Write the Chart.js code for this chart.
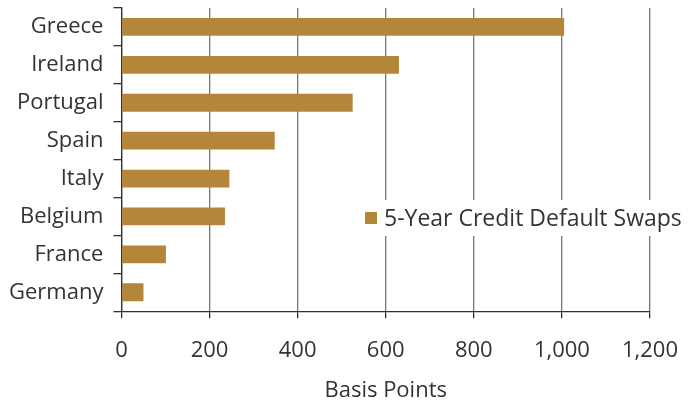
<!DOCTYPE html>
<html>
<head>
<meta charset="utf-8">
<script src="https://cdn.jsdelivr.net/npm/chart.js@4"></script>
<style>
  body { margin: 0; background: #fff; }
  #wrap { width: 697px; height: 402px; }
</style>
</head>
<body>
<div id="wrap"><canvas id="cds-chart"></canvas></div>
<script>
const countries = ['Greece', 'Ireland', 'Portugal', 'Spain', 'Italy', 'Belgium', 'France', 'Germany'];
const cdsValues = [1005, 630, 525, 348, 245, 235, 101, 50];
const xTicks = [0, 200, 400, 600, 800, 1000, 1200];
const seriesName = '5-Year Credit Default Swaps';

const barColor = '#B3863A';
const textColor = '#333333';
const fontFamily = '"Open Sans", "Noto Sans", sans-serif';
const fontSize = 22;

// legend sits inside the plot, on a white box over the gridlines
const insideLegend = {
    id: 'insideLegend',
    afterDraw(chart) {
        const ctx = chart.ctx;
        const ds = chart.data.datasets[0];
        const x = 365, y = 218;
        ctx.save();
        ctx.font = '23px ' + fontFamily;
        const w = ctx.measureText(ds.label).width;
        ctx.fillStyle = '#fff';
        ctx.fillRect(x - 4, y - 18, w + 30, 36);
        ctx.fillStyle = ds.backgroundColor;
        ctx.fillRect(x, y - 6, 12, 12);
        ctx.fillStyle = textColor;
        ctx.textBaseline = 'middle';
        ctx.fillText(ds.label, x + 19, y + 1);
        ctx.restore();
    }
};

const cdsChart = new Chart(document.getElementById('cds-chart').getContext('2d'), {
    type: 'bar',
    data: {
        labels: countries,
        datasets: [{
            label: seriesName,
            data: cdsValues,
            backgroundColor: barColor,
            barPercentage: 0.94,
            categoryPercentage: 0.5
        }]
    },
    options: {
        indexAxis: 'y',
        responsive: true,
        maintainAspectRatio: false,
        animation: false,
        layout: { padding: { top: 8, right: 11, left: -1, bottom: 0 } },
        plugins: {
            legend: { display: false },
            tooltip: { enabled: false }
        },
        scales: {
            x: {
                min: 0,
                max: 1200,
                afterBuildTicks(axis) {
                    axis.ticks = xTicks.map(v => ({ value: v }));
                },
                ticks: {
                    color: textColor,
                    font: { family: fontFamily, size: fontSize },
                    padding: 19,
                    maxRotation: 0,
                    callback: v => v.toLocaleString('en-US')
                },
                grid: {
                    color: '#777',
                    lineWidth: 1.3,
                    tickLength: 7,
                    tickColor: '#333'
                },
                border: { color: '#333', width: 1.3 },
                title: {
                    display: true,
                    text: 'Basis Points',
                    color: textColor,
                    font: { family: fontFamily, size: fontSize },
                    padding: { top: -5, bottom: -2 }
                }
            },
            y: {
                afterFit(axis) {
                    axis.paddingTop = 0;
                    axis.paddingBottom = 0;
                },
                ticks: {
                    color: textColor,
                    font: { family: fontFamily, size: fontSize },
                    padding: 10
                },
                grid: {
                    drawOnChartArea: false,
                    tickLength: 8,
                    tickColor: '#333',
                    lineWidth: 1.3
                },
                border: { color: '#333', width: 1.3 }
            }
        }
    },
    plugins: [insideLegend]
});
</script>
</body>
</html>
